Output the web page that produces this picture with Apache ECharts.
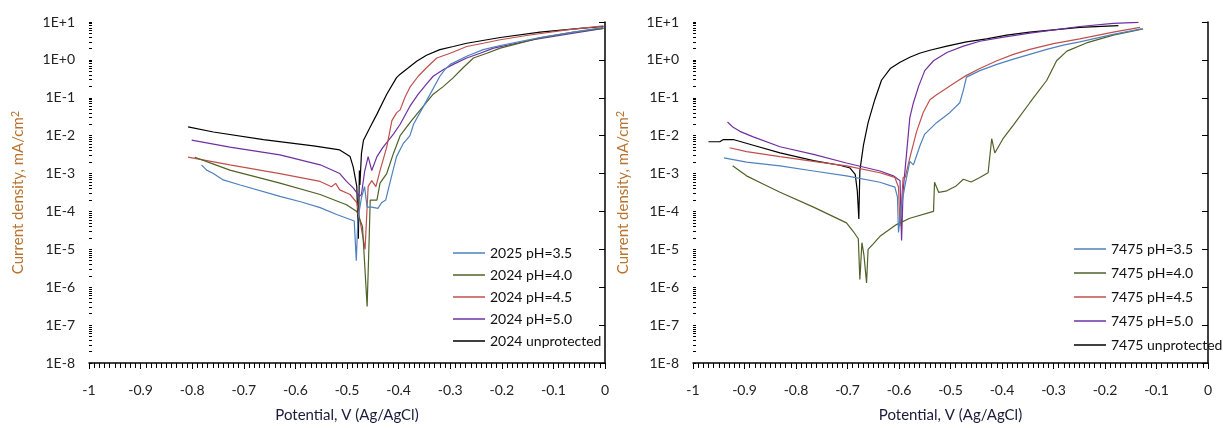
<!DOCTYPE html>
<html>
<head>
<meta charset="utf-8">
<title>Polarization curves</title>
<script src="https://cdn.jsdelivr.net/npm/echarts@6/dist/echarts.min.js"></script>
<style>
  html, body { margin: 0; padding: 0; background: #fff; }
  #main { width: 1223px; height: 428px; }
</style>
</head>
<body>
<div id="main"></div>
<script>
// potential (V vs Ag/AgCl), current density (mA/cm2)
// left panel
const s2025ph35 = [[-0.782,1.7e-3],[-0.772,1.23e-3],[-0.759,1.0e-3],[-0.740,6.8e-4],[-0.707,5.0e-4],[-0.630,2.5e-4],[-0.590,1.8e-4],[-0.552,1.26e-4],[-0.520,8.3e-5],[-0.486,5.6e-5],[-0.482,5.0e-6],[-0.479,6.0e-5],[-0.472,2.3e-4],[-0.466,4.5e-4],[-0.461,1.3e-4],[-0.452,1.3e-4],[-0.440,1.2e-4],[-0.433,1.7e-4],[-0.425,2.0e-4],[-0.417,5.6e-4],[-0.404,2.8e-3],[-0.391,6.2e-3],[-0.378,1.0e-2],[-0.371,2.0e-2],[-0.346,8.3e-2],[-0.320,0.37],[-0.310,0.56],[-0.300,0.76],[-0.268,1.25],[-0.236,1.86],[-0.203,2.4],[-0.126,3.9],[-0.061,5.4],[-0.003,7.2]]
const s2024ph40 = [[-0.795,2.7e-3],[-0.760,1.8e-3],[-0.727,1.23e-3],[-0.630,5.6e-4],[-0.552,2.8e-4],[-0.501,1.5e-4],[-0.481,1.0e-4],[-0.470,4.0e-5],[-0.461,3.1e-7],[-0.457,2.0e-5],[-0.455,2.0e-4],[-0.442,2.0e-4],[-0.436,5.6e-4],[-0.423,1.0e-3],[-0.410,3.4e-3],[-0.397,1.0e-2],[-0.375,2.5e-2],[-0.333,0.124],[-0.313,0.20],[-0.294,0.34],[-0.275,0.62],[-0.255,1.12],[-0.229,1.5],[-0.203,2.04],[-0.126,3.8],[-0.061,5.4],[-0.003,6.8]]
const s2024ph45 = [[-0.808,2.7e-3],[-0.727,1.7e-3],[-0.630,1.0e-3],[-0.552,6.2e-4],[-0.530,4.5e-4],[-0.522,5.5e-4],[-0.514,3.7e-4],[-0.494,2.8e-4],[-0.481,1.7e-4],[-0.465,1.0e-5],[-0.459,4.6e-4],[-0.452,6.5e-4],[-0.444,4.5e-4],[-0.436,1.2e-3],[-0.423,5.0e-3],[-0.413,2.5e-2],[-0.404,4.0e-2],[-0.397,4.8e-2],[-0.388,0.10],[-0.378,0.19],[-0.362,0.37],[-0.346,0.62],[-0.326,1.12],[-0.300,1.5],[-0.268,2.26],[-0.236,2.75],[-0.203,3.4],[-0.152,4.4],[-0.074,6.2],[-0.003,7.9]]
const s2024ph50 = [[-0.801,7.6e-3],[-0.727,5.0e-3],[-0.630,3.1e-3],[-0.552,1.7e-3],[-0.514,1.0e-3],[-0.501,6.2e-4],[-0.488,4.2e-4],[-0.476,2.5e-4],[-0.472,2.8e-4],[-0.466,1.1e-3],[-0.459,2.8e-3],[-0.452,1.2e-3],[-0.442,2.8e-3],[-0.430,5.0e-3],[-0.410,1.1e-2],[-0.397,2.0e-2],[-0.378,6.0e-2],[-0.362,0.125],[-0.346,0.23],[-0.333,0.37],[-0.313,0.56],[-0.294,0.76],[-0.268,1.12],[-0.242,1.5],[-0.216,2.04],[-0.139,3.4],[-0.061,5.1],[-0.003,6.8]]
const s2024unp = [[-0.808,1.7e-2],[-0.759,1.25e-2],[-0.662,7.9e-3],[-0.565,5.4e-3],[-0.514,4.2e-3],[-0.494,2.8e-3],[-0.488,1.5e-3],[-0.481,4.6e-4],[-0.478,1.9e-5],[-0.476,1.2e-3],[-0.475,5.0e-4],[-0.472,3.4e-3],[-0.468,7.6e-3],[-0.455,1.7e-2],[-0.442,3.7e-2],[-0.423,0.124],[-0.404,0.34],[-0.397,0.42],[-0.381,0.62],[-0.365,0.92],[-0.346,1.32],[-0.320,1.86],[-0.294,2.26],[-0.268,2.75],[-0.203,3.9],[-0.126,5.4],[-0.048,6.8],[-0.003,7.6]]
// right panel
const s7475ph35 = [[-0.940,2.6e-3],[-0.896,2.0e-3],[-0.831,1.6e-3],[-0.766,1.17e-3],[-0.702,8.7e-4],[-0.637,5.9e-4],[-0.608,4.4e-4],[-0.603,2.4e-4],[-0.601,2.8e-5],[-0.595,1.5e-4],[-0.588,5.2e-4],[-0.579,2.1e-3],[-0.572,1.7e-3],[-0.559,5.6e-3],[-0.550,1.1e-2],[-0.527,2.2e-2],[-0.501,4.1e-2],[-0.482,7.4e-2],[-0.475,0.16],[-0.469,0.35],[-0.443,0.52],[-0.410,0.76],[-0.378,1.05],[-0.313,1.9],[-0.281,2.45],[-0.249,3.0],[-0.184,4.7],[-0.129,6.6]]
const s7475ph40 = [[-0.923,1.6e-3],[-0.909,1.17e-3],[-0.896,8.7e-4],[-0.863,5.2e-4],[-0.831,3.2e-4],[-0.766,1.3e-4],[-0.702,5.0e-5],[-0.689,3.0e-5],[-0.679,1.9e-5],[-0.676,1.6e-6],[-0.672,1.5e-5],[-0.668,6.9e-6],[-0.663,1.3e-6],[-0.660,1.0e-5],[-0.650,1.4e-5],[-0.637,2.2e-5],[-0.605,4.5e-5],[-0.579,6.6e-5],[-0.533,1.0e-4],[-0.531,5.9e-4],[-0.523,3.2e-4],[-0.507,3.5e-4],[-0.490,4.6e-4],[-0.475,7.1e-4],[-0.460,6.0e-4],[-0.443,7.9e-4],[-0.427,1.05e-3],[-0.420,8.3e-3],[-0.414,3.5e-3],[-0.398,8.3e-3],[-0.378,1.9e-2],[-0.346,7.4e-2],[-0.313,0.29],[-0.294,0.95],[-0.274,1.7],[-0.236,2.8],[-0.184,4.5],[-0.126,6.6]]
const s7475ph45 = [[-0.929,4.8e-3],[-0.896,3.8e-3],[-0.831,2.8e-3],[-0.766,2.1e-3],[-0.702,1.6e-3],[-0.637,1.05e-3],[-0.608,7.9e-4],[-0.601,4.4e-4],[-0.598,4.1e-5],[-0.592,7.9e-4],[-0.588,7.9e-4],[-0.579,2.6e-3],[-0.566,1.26e-2],[-0.553,4.1e-2],[-0.540,8.9e-2],[-0.527,0.12],[-0.507,0.18],[-0.488,0.27],[-0.469,0.39],[-0.443,0.59],[-0.410,0.95],[-0.378,1.4],[-0.346,1.9],[-0.300,2.7],[-0.249,3.6],[-0.184,5.4],[-0.132,7.2]]
const s7475ph50 = [[-0.933,2.3e-2],[-0.922,1.66e-2],[-0.909,1.3e-2],[-0.883,9.3e-3],[-0.831,5.1e-3],[-0.766,3.2e-3],[-0.702,1.9e-3],[-0.637,1.17e-3],[-0.611,8.7e-4],[-0.598,6.5e-4],[-0.595,1.7e-5],[-0.592,3.5e-4],[-0.585,3.8e-3],[-0.579,3.0e-2],[-0.572,7.4e-2],[-0.562,0.20],[-0.550,0.52],[-0.533,0.95],[-0.507,1.57],[-0.475,2.3],[-0.443,3.1],[-0.397,4.0],[-0.346,5.1],[-0.249,7.6],[-0.184,9.2],[-0.135,9.8]]
const s7475unp = [[-0.970,6.9e-3],[-0.948,6.9e-3],[-0.941,7.9e-3],[-0.922,7.9e-3],[-0.883,5.6e-3],[-0.831,3.5e-3],[-0.766,2.2e-3],[-0.715,1.66e-3],[-0.695,1.4e-3],[-0.685,9.5e-4],[-0.681,3.5e-4],[-0.678,6.3e-5],[-0.676,1.2e-3],[-0.669,5.6e-3],[-0.660,2.2e-2],[-0.647,8.9e-2],[-0.634,0.29],[-0.617,0.59],[-0.598,0.87],[-0.579,1.17],[-0.560,1.5],[-0.540,1.8],[-0.507,2.3],[-0.469,3.0],[-0.430,3.6],[-0.391,4.5],[-0.346,5.4],[-0.249,7.2],[-0.174,8.0]]

const leftNames = ['2025 pH=3.5', '2024 pH=4.0', '2024 pH=4.5', '2024 pH=5.0', '2024 unprotected']
const rightNames = ['7475 pH=3.5', '7475 pH=4.0', '7475 pH=4.5', '7475 pH=5.0', '7475 unprotected']
const leftData = [s2025ph35, s2024ph40, s2024ph45, s2024ph50, s2024unp]
const rightData = [s7475ph35, s7475ph40, s7475ph45, s7475ph50, s7475unp]
const colors = ['#4F81BD', '#4F6228', '#C0504D', '#7030A0', '#000000']

const font = 'Lato'

// x axis for one panel
function xAx(gridIndex) {
  return {
    type: 'value', gridIndex: gridIndex, min: -1, max: 0, interval: 0.1,
    name: 'Potential, V (Ag/AgCl)', nameLocation: 'middle', nameGap: 45,
    nameTextStyle: { fontFamily: font, fontSize: 15, color: '#1a1a3a' },
    splitLine: { show: false },
    axisLine: { lineStyle: { color: '#000', width: 1.5 } },
    axisTick: { length: 6, lineStyle: { color: '#000' } },
    minorTick: { show: true, splitNumber: 10, length: 5, lineStyle: { color: '#000' } },
    axisLabel: {
      margin: 20, fontFamily: font, fontSize: 14, color: '#222',
      formatter: v => String(Math.round(v * 10) / 10)
    }
  }
}

// log y axis for one panel
function yAx(gridIndex, nameGap) {
  return {
    type: 'log', logBase: 10, gridIndex: gridIndex, min: 1e-8, max: 10, interval: 1,
    name: 'Current density, mA/cm{sup|2}', nameLocation: 'middle', nameGap: nameGap,
    nameTextStyle: {
      fontFamily: font, fontSize: 15, color: '#B8732F',
      rich: { sup: { fontFamily: font, fontSize: 11, color: '#B8732F', verticalAlign: 'top', padding: [0, 0, 6, 0] } }
    },
    splitLine: { show: false },
    axisLine: { lineStyle: { color: '#000', width: 1.5 } },
    axisTick: { length: 6, lineStyle: { color: '#000' } },
    axisLabel: {
      margin: 14, fontFamily: font, fontSize: 14, color: '#222',
      formatter: v => {
        let e = Math.round(Math.log10(v))
        return '1E' + (e >= 0 ? '+' : '') + e
      }
    }
  }
}

// second y axis on top of the first, only for the inside minor ticks
function yMinor(gridIndex) {
  return {
    type: 'log', logBase: 10, gridIndex: gridIndex, min: 1e-8, max: 10, interval: 1,
    position: 'left',
    axisLine: { show: false }, axisLabel: { show: false }, splitLine: { show: false },
    axisTick: { show: true, inside: true, length: 3, lineStyle: { color: '#000' } },
    minorTick: { show: true, splitNumber: 9, length: 3, lineStyle: { color: '#000' } }
  }
}

function legend(names, left, top, gap) {
  return {
    data: names, orient: 'vertical', left: left, top: top,
    icon: 'rect', itemWidth: 32, itemHeight: 1.5, itemGap: gap,
    textStyle: { fontFamily: font, fontSize: 14, color: '#111' }
  }
}

let series = []
leftNames.forEach((n, i) => series.push({
  name: n, type: 'line', xAxisIndex: 0, yAxisIndex: 0, data: leftData[i],
  showSymbol: false, lineStyle: { width: 1.2, color: colors[i] }, itemStyle: { color: colors[i] }, z: 10 - i
}))
rightNames.forEach((n, i) => series.push({
  name: n, type: 'line', xAxisIndex: 1, yAxisIndex: 1, data: rightData[i],
  showSymbol: false, lineStyle: { width: 1.2, color: colors[i] }, itemStyle: { color: colors[i] }, z: 10 - i
}))

let myChart = echarts.init(document.getElementById('main'))
myChart.setOption({
  animation: false,
  grid: [
    { left: 89, top: 22, width: 516, height: 345 },
    { left: 693, top: 22, width: 515, height: 350 }
  ],
  xAxis: [xAx(0), xAx(1)],
  yAxis: [yAx(0, 62), yAx(1, 61), yMinor(0), yMinor(1)],
  legend: [legend(leftNames, 448, 241, 8), legend(rightNames, 1069, 237, 10)],
  series: series
})
</script>
</body>
</html>
